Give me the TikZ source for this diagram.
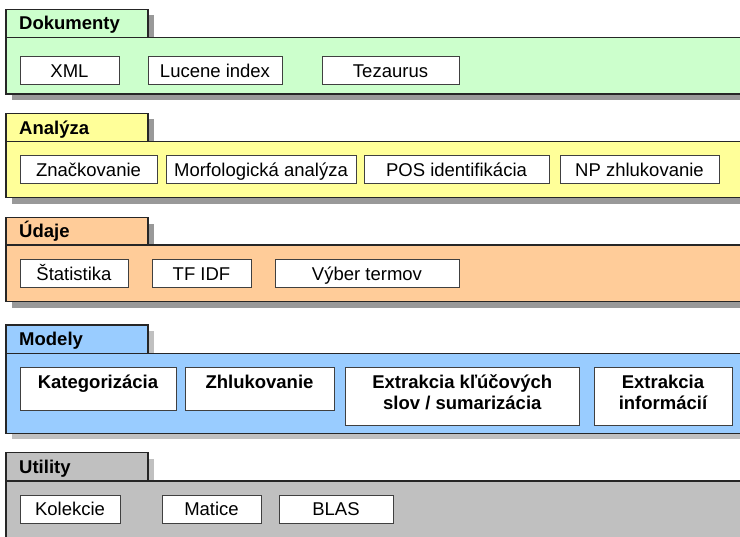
\documentclass[tikz,border=0pt]{standalone}
\usepackage{fontspec}
\setmainfont{Liberation Sans}
\begin{document}
\begin{tikzpicture}[x=1pt,y=-1pt,
  panel/.style={draw=black!85, line width=1.1pt},
  shade/.style={fill=#1, draw=none},
  itembox/.style={draw=black!75, line width=0.9pt, fill=white, inner sep=0pt, minimum height=28pt,
    font=\fontsize{18.5}{21.3}\selectfont, text height=13.3pt, text depth=0pt},
  mbox/.style={draw=black!75, line width=0.9pt, fill=white, inner sep=0pt},
  mtext/.style={font=\fontsize{18.5}{21.3}\selectfont\bfseries, align=center, inner sep=0pt},
  tabtext/.style={font=\fontsize{18.5}{21.3}\selectfont\bfseries, anchor=base west, inner sep=0pt}]
\useasboundingbox (0,0) rectangle (740,537);
\clip (0,0) rectangle (740,537);
\definecolor{cdok}{HTML}{CCFFCC}
\definecolor{cana}{HTML}{FFFF99}
\definecolor{cuda}{HTML}{FFCC99}
\definecolor{cmod}{HTML}{99CCFF}
\definecolor{cuti}{HTML}{C0C0C0}
\definecolor{sdark}{HTML}{999999}
\definecolor{slight}{HTML}{C0C0C0}
% #1 tab top, #2 panel top, #3 panel bottom, #4 fill, #5 shadow, #6 title, #7 name
\newcommand\mkband[7]{%
  \fill[shade=#5] (12,#3) rectangle (760,{#3+6});
  \fill[shade=#5] (148,{#1+6}) rectangle (154,#2);
  \draw[panel, fill=#4] (6,#2) rectangle (760,#3);
  \draw[panel, fill=#4] (6,#1) rectangle (148,#2);
  \node[tabtext] (#7) at (19,{(#1+#2)/2+6.6}) {#6};
}
\mkband{9.3}{37.5}{94}{cdok}{sdark}{Dokumenty}{tdok}
\mkband{113.3}{141.7}{197.7}{cana}{sdark}{Analýza}{tana}
\mkband{217.7}{245}{301.7}{cuda}{sdark}{Údaje}{tuda}
\mkband{325}{353.3}{433.3}{cmod}{slight}{Modely}{tmod}
\mkband{452.7}{481}{560}{cuti}{slight}{Utility}{tuti}

% Dokumenty
\node[itembox, minimum width=99pt, minimum height=27.6pt] (xml) at (69.5,70.5) {XML};
\node[itembox, minimum width=134pt, minimum height=27.6pt] (luc) at (215,70.5) {Lucene index};
\node[itembox, minimum width=137pt, minimum height=27.6pt] (tez) at (390.5,70.5) {Tezaurus};
% Analyza
\node[itembox, minimum width=137pt] (zna) at (88.5,169.5) {Značkovanie};
\node[itembox, minimum width=190pt] (mor) at (261,169.5) {Morfologická analýza};
\node[itembox, minimum width=185pt] (pos) at (456.5,169.5) {POS identifikácia};
\node[itembox, minimum width=159pt] (npz) at (639.5,169.5) {NP zhlukovanie};
% Udaje
\node[itembox, minimum width=108pt] (sta) at (74,273.5) {Štatistika};
\node[itembox, minimum width=99pt] (tfi) at (201.5,273.5) {TF IDF};
\node[itembox, minimum width=184pt] (vyb) at (367,273.5) {Výber termov};
% Modely
\node[mbox, minimum width=156pt, minimum height=42.3pt] (kat) at (98,388.85) {};
\node[mbox, minimum width=149pt, minimum height=42.3pt] (zhl) at (259.5,388.85) {};
\node[mbox, minimum width=233.3pt, minimum height=57.3pt] (ekl) at (462.3,396.35) {};
\node[mbox, minimum width=138pt, minimum height=57.3pt] (ein) at (663,396.35) {};
\node[mtext, anchor=base] (katt) at (98,388.3) {Kategorizácia};
\node[mtext, anchor=base] (zhlt) at (259.5,388.3) {Zhlukovanie};
\node[mtext, anchor=base] (eklt) at (462.3,409.6) {Extrakcia kľúčových\\slov / sumarizácia};
\node[mtext, anchor=base] (eint) at (663,409.6) {Extrakcia\\informácií};
% Utility
\node[itembox, minimum width=100pt] (kol) at (70,509) {Kolekcie};
\node[itembox, minimum width=99pt] (mat) at (211.5,509) {Matice};
\node[itembox, minimum width=114pt] (bla) at (336,509) {BLAS};
\end{tikzpicture}
\end{document}
